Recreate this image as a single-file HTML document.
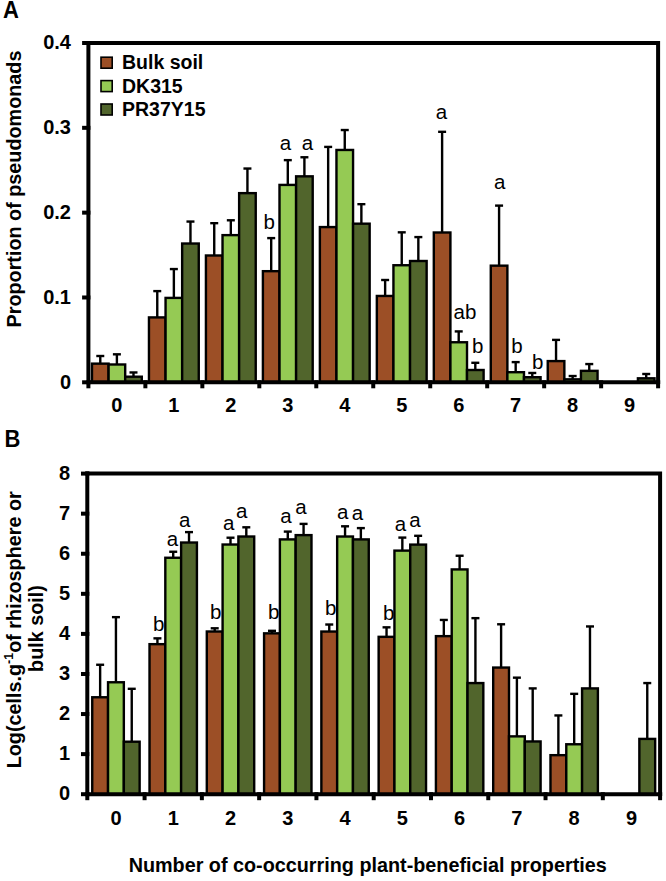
<!DOCTYPE html>
<html><head><meta charset="utf-8"><title>chart</title>
<style>
html,body{margin:0;padding:0;background:#fff;}
body{width:666px;height:881px;overflow:hidden;}
svg{display:block;}
text{font-family:"Liberation Sans", sans-serif;fill:#000;}
.tl{font-size:20px;font-weight:bold;}
.lg{font-size:19.5px;font-weight:bold;}
.pl{font-size:22px;font-weight:bold;}
.at{font-size:19.8px;font-weight:bold;}
.sig{font-size:20.5px;}
.bar{stroke:#000;stroke-width:2.4;}
.eb{stroke:#000;stroke-width:2.4;fill:none;}
.ax{stroke:#000;stroke-width:4;fill:none;stroke-linecap:square;}
</style></head>
<body><svg width="666" height="881" viewBox="0 0 666 881">
<line x1="100.28" y1="363.64" x2="100.28" y2="356.00" class="eb"/>
<line x1="96.28" y1="356.00" x2="104.28" y2="356.00" class="eb"/>
<rect x="91.98" y="363.64" width="16.60" height="18.66" fill="#9c4f26" class="bar"/>
<line x1="116.89" y1="364.49" x2="116.89" y2="354.31" class="eb"/>
<line x1="112.89" y1="354.31" x2="120.89" y2="354.31" class="eb"/>
<rect x="108.59" y="364.49" width="16.60" height="17.81" fill="#95ca54" class="bar"/>
<line x1="133.49" y1="376.70" x2="133.49" y2="372.46" class="eb"/>
<line x1="129.49" y1="372.46" x2="137.49" y2="372.46" class="eb"/>
<rect x="125.19" y="376.70" width="16.60" height="5.60" fill="#51652c" class="bar"/>
<line x1="157.26" y1="317.41" x2="157.26" y2="291.11" class="eb"/>
<line x1="153.26" y1="291.11" x2="161.26" y2="291.11" class="eb"/>
<rect x="148.96" y="317.41" width="16.60" height="64.89" fill="#9c4f26" class="bar"/>
<line x1="173.86" y1="297.90" x2="173.86" y2="269.06" class="eb"/>
<line x1="169.86" y1="269.06" x2="177.86" y2="269.06" class="eb"/>
<rect x="165.56" y="297.90" width="16.60" height="84.40" fill="#95ca54" class="bar"/>
<line x1="190.46" y1="243.53" x2="190.46" y2="221.56" class="eb"/>
<line x1="186.46" y1="221.56" x2="194.46" y2="221.56" class="eb"/>
<rect x="182.16" y="243.53" width="16.60" height="138.77" fill="#51652c" class="bar"/>
<line x1="214.23" y1="255.49" x2="214.23" y2="223.17" class="eb"/>
<line x1="210.23" y1="223.17" x2="218.23" y2="223.17" class="eb"/>
<rect x="205.93" y="255.49" width="16.60" height="126.81" fill="#9c4f26" class="bar"/>
<line x1="230.83" y1="235.13" x2="230.83" y2="220.28" class="eb"/>
<line x1="226.83" y1="220.28" x2="234.83" y2="220.28" class="eb"/>
<rect x="222.53" y="235.13" width="16.60" height="147.17" fill="#95ca54" class="bar"/>
<line x1="247.43" y1="193.14" x2="247.43" y2="168.54" class="eb"/>
<line x1="243.43" y1="168.54" x2="251.43" y2="168.54" class="eb"/>
<rect x="239.13" y="193.14" width="16.60" height="189.16" fill="#51652c" class="bar"/>
<line x1="271.19" y1="271.18" x2="271.19" y2="238.10" class="eb"/>
<line x1="267.19" y1="238.10" x2="275.19" y2="238.10" class="eb"/>
<rect x="262.90" y="271.18" width="16.60" height="111.12" fill="#9c4f26" class="bar"/>
<line x1="287.80" y1="184.91" x2="287.80" y2="160.14" class="eb"/>
<line x1="283.80" y1="160.14" x2="291.80" y2="160.14" class="eb"/>
<rect x="279.50" y="184.91" width="16.60" height="197.39" fill="#95ca54" class="bar"/>
<line x1="304.40" y1="176.34" x2="304.40" y2="157.26" class="eb"/>
<line x1="300.40" y1="157.26" x2="308.40" y2="157.26" class="eb"/>
<rect x="296.10" y="176.34" width="16.60" height="205.96" fill="#51652c" class="bar"/>
<line x1="328.16" y1="227.07" x2="328.16" y2="146.91" class="eb"/>
<line x1="324.16" y1="146.91" x2="332.16" y2="146.91" class="eb"/>
<rect x="319.87" y="227.07" width="16.60" height="155.23" fill="#9c4f26" class="bar"/>
<line x1="344.76" y1="149.96" x2="344.76" y2="130.03" class="eb"/>
<line x1="340.76" y1="130.03" x2="348.76" y2="130.03" class="eb"/>
<rect x="336.46" y="149.96" width="16.60" height="232.34" fill="#95ca54" class="bar"/>
<line x1="361.37" y1="223.68" x2="361.37" y2="204.17" class="eb"/>
<line x1="357.37" y1="204.17" x2="365.37" y2="204.17" class="eb"/>
<rect x="353.06" y="223.68" width="16.60" height="158.62" fill="#51652c" class="bar"/>
<line x1="385.13" y1="295.95" x2="385.13" y2="280.00" class="eb"/>
<line x1="381.13" y1="280.00" x2="389.13" y2="280.00" class="eb"/>
<rect x="376.84" y="295.95" width="16.60" height="86.35" fill="#9c4f26" class="bar"/>
<line x1="401.74" y1="265.24" x2="401.74" y2="232.33" class="eb"/>
<line x1="397.74" y1="232.33" x2="405.74" y2="232.33" class="eb"/>
<rect x="393.44" y="265.24" width="16.60" height="117.06" fill="#95ca54" class="bar"/>
<line x1="418.34" y1="261.00" x2="418.34" y2="237.08" class="eb"/>
<line x1="414.34" y1="237.08" x2="422.34" y2="237.08" class="eb"/>
<rect x="410.04" y="261.00" width="16.60" height="121.30" fill="#51652c" class="bar"/>
<line x1="442.11" y1="232.50" x2="442.11" y2="131.81" class="eb"/>
<line x1="438.11" y1="131.81" x2="446.11" y2="131.81" class="eb"/>
<rect x="433.81" y="232.50" width="16.60" height="149.80" fill="#9c4f26" class="bar"/>
<line x1="458.71" y1="342.26" x2="458.71" y2="331.41" class="eb"/>
<line x1="454.71" y1="331.41" x2="462.71" y2="331.41" class="eb"/>
<rect x="450.41" y="342.26" width="16.60" height="40.04" fill="#95ca54" class="bar"/>
<line x1="475.31" y1="370.00" x2="475.31" y2="362.79" class="eb"/>
<line x1="471.31" y1="362.79" x2="479.31" y2="362.79" class="eb"/>
<rect x="467.01" y="370.00" width="16.60" height="12.30" fill="#51652c" class="bar"/>
<line x1="499.08" y1="265.67" x2="499.08" y2="205.61" class="eb"/>
<line x1="495.08" y1="205.61" x2="503.08" y2="205.61" class="eb"/>
<rect x="490.78" y="265.67" width="16.60" height="116.63" fill="#9c4f26" class="bar"/>
<line x1="515.68" y1="372.21" x2="515.68" y2="362.11" class="eb"/>
<line x1="511.68" y1="362.11" x2="519.68" y2="362.11" class="eb"/>
<rect x="507.38" y="372.21" width="16.60" height="10.09" fill="#95ca54" class="bar"/>
<line x1="532.28" y1="377.21" x2="532.28" y2="372.97" class="eb"/>
<line x1="528.28" y1="372.97" x2="536.28" y2="372.97" class="eb"/>
<rect x="523.98" y="377.21" width="16.60" height="5.09" fill="#51652c" class="bar"/>
<line x1="556.05" y1="361.09" x2="556.05" y2="339.89" class="eb"/>
<line x1="552.05" y1="339.89" x2="560.05" y2="339.89" class="eb"/>
<rect x="547.75" y="361.09" width="16.60" height="21.21" fill="#9c4f26" class="bar"/>
<line x1="572.65" y1="379.33" x2="572.65" y2="376.02" class="eb"/>
<line x1="568.65" y1="376.02" x2="576.65" y2="376.02" class="eb"/>
<rect x="564.35" y="379.33" width="16.60" height="2.97" fill="#95ca54" class="bar"/>
<line x1="589.25" y1="370.85" x2="589.25" y2="364.06" class="eb"/>
<line x1="585.25" y1="364.06" x2="593.25" y2="364.06" class="eb"/>
<rect x="580.95" y="370.85" width="16.60" height="11.45" fill="#51652c" class="bar"/>
<line x1="646.22" y1="378.31" x2="646.22" y2="373.99" class="eb"/>
<line x1="642.22" y1="373.99" x2="650.22" y2="373.99" class="eb"/>
<rect x="637.91" y="378.31" width="16.60" height="3.99" fill="#51652c" class="bar"/>
<path d="M88.40 43.00 H658.10 V382.30" class="ax"/>
<path d="M88.40 43.00 V382.30 H658.10" class="ax"/>
<line x1="84.10" y1="382.30" x2="88.40" y2="382.30" class="ax"/>
<line x1="84.10" y1="297.48" x2="88.40" y2="297.48" class="ax"/>
<line x1="84.10" y1="212.65" x2="88.40" y2="212.65" class="ax"/>
<line x1="84.10" y1="127.83" x2="88.40" y2="127.83" class="ax"/>
<line x1="84.10" y1="43.00" x2="88.40" y2="43.00" class="ax"/>
<line x1="88.40" y1="382.30" x2="88.40" y2="386.30" class="ax"/>
<line x1="145.37" y1="382.30" x2="145.37" y2="386.30" class="ax"/>
<line x1="202.34" y1="382.30" x2="202.34" y2="386.30" class="ax"/>
<line x1="259.31" y1="382.30" x2="259.31" y2="386.30" class="ax"/>
<line x1="316.28" y1="382.30" x2="316.28" y2="386.30" class="ax"/>
<line x1="373.25" y1="382.30" x2="373.25" y2="386.30" class="ax"/>
<line x1="430.22" y1="382.30" x2="430.22" y2="386.30" class="ax"/>
<line x1="487.19" y1="382.30" x2="487.19" y2="386.30" class="ax"/>
<line x1="544.16" y1="382.30" x2="544.16" y2="386.30" class="ax"/>
<line x1="601.13" y1="382.30" x2="601.13" y2="386.30" class="ax"/>
<line x1="658.10" y1="382.30" x2="658.10" y2="386.30" class="ax"/>
<text x="71.00" y="388.55" class="tl" text-anchor="end">0</text>
<text x="71.00" y="303.73" class="tl" text-anchor="end">0.1</text>
<text x="71.00" y="218.90" class="tl" text-anchor="end">0.2</text>
<text x="71.00" y="134.08" class="tl" text-anchor="end">0.3</text>
<text x="71.00" y="49.25" class="tl" text-anchor="end">0.4</text>
<text x="116.89" y="412.30" class="tl" text-anchor="middle">0</text>
<text x="173.86" y="412.30" class="tl" text-anchor="middle">1</text>
<text x="230.83" y="412.30" class="tl" text-anchor="middle">2</text>
<text x="287.80" y="412.30" class="tl" text-anchor="middle">3</text>
<text x="344.76" y="412.30" class="tl" text-anchor="middle">4</text>
<text x="401.74" y="412.30" class="tl" text-anchor="middle">5</text>
<text x="458.71" y="412.30" class="tl" text-anchor="middle">6</text>
<text x="515.68" y="412.30" class="tl" text-anchor="middle">7</text>
<text x="572.65" y="412.30" class="tl" text-anchor="middle">8</text>
<text x="629.62" y="412.30" class="tl" text-anchor="middle">9</text>
<line x1="100.14" y1="697.26" x2="100.14" y2="664.76" class="eb"/>
<line x1="96.14" y1="664.76" x2="104.14" y2="664.76" class="eb"/>
<rect x="92.24" y="697.26" width="15.80" height="96.94" fill="#9c4f26" class="bar"/>
<line x1="115.94" y1="682.27" x2="115.94" y2="617.15" class="eb"/>
<line x1="111.94" y1="617.15" x2="119.94" y2="617.15" class="eb"/>
<rect x="108.04" y="682.27" width="15.80" height="111.93" fill="#95ca54" class="bar"/>
<line x1="131.74" y1="741.70" x2="131.74" y2="688.80" class="eb"/>
<line x1="127.74" y1="688.80" x2="135.74" y2="688.80" class="eb"/>
<rect x="123.84" y="741.70" width="15.80" height="52.50" fill="#51652c" class="bar"/>
<line x1="157.42" y1="644.16" x2="157.42" y2="638.35" class="eb"/>
<line x1="153.42" y1="638.35" x2="161.42" y2="638.35" class="eb"/>
<rect x="149.52" y="644.16" width="15.80" height="150.04" fill="#9c4f26" class="bar"/>
<line x1="173.22" y1="557.76" x2="173.22" y2="551.75" class="eb"/>
<line x1="169.22" y1="551.75" x2="177.22" y2="551.75" class="eb"/>
<rect x="165.32" y="557.76" width="15.80" height="236.44" fill="#95ca54" class="bar"/>
<line x1="189.02" y1="542.53" x2="189.02" y2="532.11" class="eb"/>
<line x1="185.02" y1="532.11" x2="193.02" y2="532.11" class="eb"/>
<rect x="181.12" y="542.53" width="15.80" height="251.67" fill="#51652c" class="bar"/>
<line x1="214.70" y1="631.50" x2="214.70" y2="628.29" class="eb"/>
<line x1="210.70" y1="628.29" x2="218.70" y2="628.29" class="eb"/>
<rect x="206.80" y="631.50" width="15.80" height="162.70" fill="#9c4f26" class="bar"/>
<line x1="230.50" y1="544.53" x2="230.50" y2="537.72" class="eb"/>
<line x1="226.50" y1="537.72" x2="234.50" y2="537.72" class="eb"/>
<rect x="222.60" y="544.53" width="15.80" height="249.67" fill="#95ca54" class="bar"/>
<line x1="246.30" y1="536.52" x2="246.30" y2="527.30" class="eb"/>
<line x1="242.30" y1="527.30" x2="250.30" y2="527.30" class="eb"/>
<rect x="238.40" y="536.52" width="15.80" height="257.68" fill="#51652c" class="bar"/>
<line x1="271.98" y1="633.34" x2="271.98" y2="630.81" class="eb"/>
<line x1="267.98" y1="630.81" x2="275.98" y2="630.81" class="eb"/>
<rect x="264.08" y="633.34" width="15.80" height="160.86" fill="#9c4f26" class="bar"/>
<line x1="287.78" y1="539.40" x2="287.78" y2="531.59" class="eb"/>
<line x1="283.78" y1="531.59" x2="291.78" y2="531.59" class="eb"/>
<rect x="279.88" y="539.40" width="15.80" height="254.80" fill="#95ca54" class="bar"/>
<line x1="303.58" y1="535.12" x2="303.58" y2="523.89" class="eb"/>
<line x1="299.58" y1="523.89" x2="307.58" y2="523.89" class="eb"/>
<rect x="295.68" y="535.12" width="15.80" height="259.08" fill="#51652c" class="bar"/>
<line x1="329.26" y1="631.54" x2="329.26" y2="624.52" class="eb"/>
<line x1="325.26" y1="624.52" x2="333.26" y2="624.52" class="eb"/>
<rect x="321.36" y="631.54" width="15.80" height="162.66" fill="#9c4f26" class="bar"/>
<line x1="345.06" y1="536.52" x2="345.06" y2="526.30" class="eb"/>
<line x1="341.06" y1="526.30" x2="349.06" y2="526.30" class="eb"/>
<rect x="337.16" y="536.52" width="15.80" height="257.68" fill="#95ca54" class="bar"/>
<line x1="360.86" y1="539.40" x2="360.86" y2="528.10" class="eb"/>
<line x1="356.86" y1="528.10" x2="364.86" y2="528.10" class="eb"/>
<rect x="352.96" y="539.40" width="15.80" height="254.80" fill="#51652c" class="bar"/>
<line x1="386.54" y1="636.83" x2="386.54" y2="627.33" class="eb"/>
<line x1="382.54" y1="627.33" x2="390.54" y2="627.33" class="eb"/>
<rect x="378.64" y="636.83" width="15.80" height="157.37" fill="#9c4f26" class="bar"/>
<line x1="402.34" y1="550.62" x2="402.34" y2="537.60" class="eb"/>
<line x1="398.34" y1="537.60" x2="406.34" y2="537.60" class="eb"/>
<rect x="394.44" y="550.62" width="15.80" height="243.58" fill="#95ca54" class="bar"/>
<line x1="418.14" y1="544.61" x2="418.14" y2="535.80" class="eb"/>
<line x1="414.14" y1="535.80" x2="422.14" y2="535.80" class="eb"/>
<rect x="410.24" y="544.61" width="15.80" height="249.59" fill="#51652c" class="bar"/>
<line x1="443.82" y1="636.14" x2="443.82" y2="619.95" class="eb"/>
<line x1="439.82" y1="619.95" x2="447.82" y2="619.95" class="eb"/>
<rect x="435.92" y="636.14" width="15.80" height="158.06" fill="#9c4f26" class="bar"/>
<line x1="459.62" y1="569.42" x2="459.62" y2="555.75" class="eb"/>
<line x1="455.62" y1="555.75" x2="463.62" y2="555.75" class="eb"/>
<rect x="451.72" y="569.42" width="15.80" height="224.78" fill="#95ca54" class="bar"/>
<line x1="475.42" y1="683.07" x2="475.42" y2="618.15" class="eb"/>
<line x1="471.42" y1="618.15" x2="479.42" y2="618.15" class="eb"/>
<rect x="467.52" y="683.07" width="15.80" height="111.13" fill="#51652c" class="bar"/>
<line x1="501.10" y1="667.56" x2="501.10" y2="624.28" class="eb"/>
<line x1="497.10" y1="624.28" x2="505.10" y2="624.28" class="eb"/>
<rect x="493.20" y="667.56" width="15.80" height="126.64" fill="#9c4f26" class="bar"/>
<line x1="516.90" y1="736.37" x2="516.90" y2="677.66" class="eb"/>
<line x1="512.90" y1="677.66" x2="520.90" y2="677.66" class="eb"/>
<rect x="509.00" y="736.37" width="15.80" height="57.83" fill="#95ca54" class="bar"/>
<line x1="532.70" y1="741.46" x2="532.70" y2="688.40" class="eb"/>
<line x1="528.70" y1="688.40" x2="536.70" y2="688.40" class="eb"/>
<rect x="524.80" y="741.46" width="15.80" height="52.74" fill="#51652c" class="bar"/>
<line x1="558.38" y1="755.17" x2="558.38" y2="715.45" class="eb"/>
<line x1="554.38" y1="715.45" x2="562.38" y2="715.45" class="eb"/>
<rect x="550.48" y="755.17" width="15.80" height="39.03" fill="#9c4f26" class="bar"/>
<line x1="574.18" y1="744.27" x2="574.18" y2="693.85" class="eb"/>
<line x1="570.18" y1="693.85" x2="578.18" y2="693.85" class="eb"/>
<rect x="566.28" y="744.27" width="15.80" height="49.93" fill="#95ca54" class="bar"/>
<line x1="589.98" y1="688.40" x2="589.98" y2="626.45" class="eb"/>
<line x1="585.98" y1="626.45" x2="593.98" y2="626.45" class="eb"/>
<rect x="582.08" y="688.40" width="15.80" height="105.80" fill="#51652c" class="bar"/>
<line x1="647.26" y1="738.90" x2="647.26" y2="683.07" class="eb"/>
<line x1="643.26" y1="683.07" x2="651.26" y2="683.07" class="eb"/>
<rect x="639.36" y="738.90" width="15.80" height="55.30" fill="#51652c" class="bar"/>
<path d="M87.30 473.60 H660.10 V794.20" class="ax"/>
<path d="M87.30 473.60 V794.20 H660.10" class="ax"/>
<line x1="83.00" y1="794.20" x2="87.30" y2="794.20" class="ax"/>
<line x1="83.00" y1="754.12" x2="87.30" y2="754.12" class="ax"/>
<line x1="83.00" y1="714.05" x2="87.30" y2="714.05" class="ax"/>
<line x1="83.00" y1="673.98" x2="87.30" y2="673.98" class="ax"/>
<line x1="83.00" y1="633.90" x2="87.30" y2="633.90" class="ax"/>
<line x1="83.00" y1="593.83" x2="87.30" y2="593.83" class="ax"/>
<line x1="83.00" y1="553.75" x2="87.30" y2="553.75" class="ax"/>
<line x1="83.00" y1="513.67" x2="87.30" y2="513.67" class="ax"/>
<line x1="83.00" y1="473.60" x2="87.30" y2="473.60" class="ax"/>
<line x1="87.30" y1="794.20" x2="87.30" y2="798.20" class="ax"/>
<line x1="144.58" y1="794.20" x2="144.58" y2="798.20" class="ax"/>
<line x1="201.86" y1="794.20" x2="201.86" y2="798.20" class="ax"/>
<line x1="259.14" y1="794.20" x2="259.14" y2="798.20" class="ax"/>
<line x1="316.42" y1="794.20" x2="316.42" y2="798.20" class="ax"/>
<line x1="373.70" y1="794.20" x2="373.70" y2="798.20" class="ax"/>
<line x1="430.98" y1="794.20" x2="430.98" y2="798.20" class="ax"/>
<line x1="488.26" y1="794.20" x2="488.26" y2="798.20" class="ax"/>
<line x1="545.54" y1="794.20" x2="545.54" y2="798.20" class="ax"/>
<line x1="602.82" y1="794.20" x2="602.82" y2="798.20" class="ax"/>
<line x1="660.10" y1="794.20" x2="660.10" y2="798.20" class="ax"/>
<text x="70.00" y="800.45" class="tl" text-anchor="end">0</text>
<text x="70.00" y="760.38" class="tl" text-anchor="end">1</text>
<text x="70.00" y="720.30" class="tl" text-anchor="end">2</text>
<text x="70.00" y="680.23" class="tl" text-anchor="end">3</text>
<text x="70.00" y="640.15" class="tl" text-anchor="end">4</text>
<text x="70.00" y="600.08" class="tl" text-anchor="end">5</text>
<text x="70.00" y="560.00" class="tl" text-anchor="end">6</text>
<text x="70.00" y="519.92" class="tl" text-anchor="end">7</text>
<text x="70.00" y="479.85" class="tl" text-anchor="end">8</text>
<text x="115.94" y="824.80" class="tl" text-anchor="middle">0</text>
<text x="173.22" y="824.80" class="tl" text-anchor="middle">1</text>
<text x="230.50" y="824.80" class="tl" text-anchor="middle">2</text>
<text x="287.78" y="824.80" class="tl" text-anchor="middle">3</text>
<text x="345.06" y="824.80" class="tl" text-anchor="middle">4</text>
<text x="402.34" y="824.80" class="tl" text-anchor="middle">5</text>
<text x="459.62" y="824.80" class="tl" text-anchor="middle">6</text>
<text x="516.90" y="824.80" class="tl" text-anchor="middle">7</text>
<text x="574.18" y="824.80" class="tl" text-anchor="middle">8</text>
<text x="631.46" y="824.80" class="tl" text-anchor="middle">9</text>
<text x="269.30" y="229.00" class="sig" text-anchor="middle">b</text>
<text x="285.50" y="149.50" class="sig" text-anchor="middle">a</text>
<text x="307.40" y="149.50" class="sig" text-anchor="middle">a</text>
<text x="441.50" y="119.30" class="sig" text-anchor="middle">a</text>
<text x="499.60" y="189.00" class="sig" text-anchor="middle">a</text>
<text x="465.00" y="319.00" class="sig" text-anchor="middle">ab</text>
<text x="477.60" y="353.00" class="sig" text-anchor="middle">b</text>
<text x="516.90" y="353.00" class="sig" text-anchor="middle">b</text>
<text x="537.80" y="369.30" class="sig" text-anchor="middle">b</text>
<text x="158.70" y="630.50" class="sig" text-anchor="middle">b</text>
<text x="172.40" y="546.00" class="sig" text-anchor="middle">a</text>
<text x="184.80" y="527.40" class="sig" text-anchor="middle">a</text>
<text x="215.70" y="618.70" class="sig" text-anchor="middle">b</text>
<text x="228.60" y="530.30" class="sig" text-anchor="middle">a</text>
<text x="241.80" y="518.00" class="sig" text-anchor="middle">a</text>
<text x="273.70" y="619.30" class="sig" text-anchor="middle">b</text>
<text x="286.00" y="523.30" class="sig" text-anchor="middle">a</text>
<text x="301.00" y="513.70" class="sig" text-anchor="middle">a</text>
<text x="330.70" y="615.20" class="sig" text-anchor="middle">b</text>
<text x="342.70" y="519.00" class="sig" text-anchor="middle">a</text>
<text x="357.40" y="520.30" class="sig" text-anchor="middle">a</text>
<text x="388.60" y="620.10" class="sig" text-anchor="middle">b</text>
<text x="400.40" y="531.30" class="sig" text-anchor="middle">a</text>
<text x="414.90" y="527.00" class="sig" text-anchor="middle">a</text>
<rect x="101" y="57.20" width="11.2" height="11" fill="#9c4f26" stroke="#000" stroke-width="1.6"/>
<text x="122.0" y="69.20" class="lg">Bulk soil</text>
<rect x="101" y="80.60" width="11.2" height="11" fill="#95ca54" stroke="#000" stroke-width="1.6"/>
<text x="122.0" y="92.60" class="lg">DK315</text>
<rect x="101" y="104.00" width="11.2" height="11" fill="#51652c" stroke="#000" stroke-width="1.6"/>
<text x="122.0" y="116.00" class="lg">PR37Y15</text>
<text transform="translate(3 18.4) scale(1 1.1)" class="pl">A</text>
<text transform="translate(4.5 446.6) scale(1 1.1)" class="pl">B</text>
<text transform="translate(20.6 189) rotate(-90)" class="at" text-anchor="middle">Proportion of pseudomonads</text>
<text transform="translate(20.6 629.8) rotate(-90)" class="at" text-anchor="middle">Log(cells.g<tspan dy="-7.5" font-size="12.5">-1</tspan><tspan dy="7.5">of rhizosphere or</tspan></text>
<text transform="translate(42.9 628.5) rotate(-90)" class="at" text-anchor="middle">bulk soil)</text>
<text x="367.7" y="872" class="at" text-anchor="middle">Number of co-occurring plant-beneficial properties</text>
</svg></body></html>
